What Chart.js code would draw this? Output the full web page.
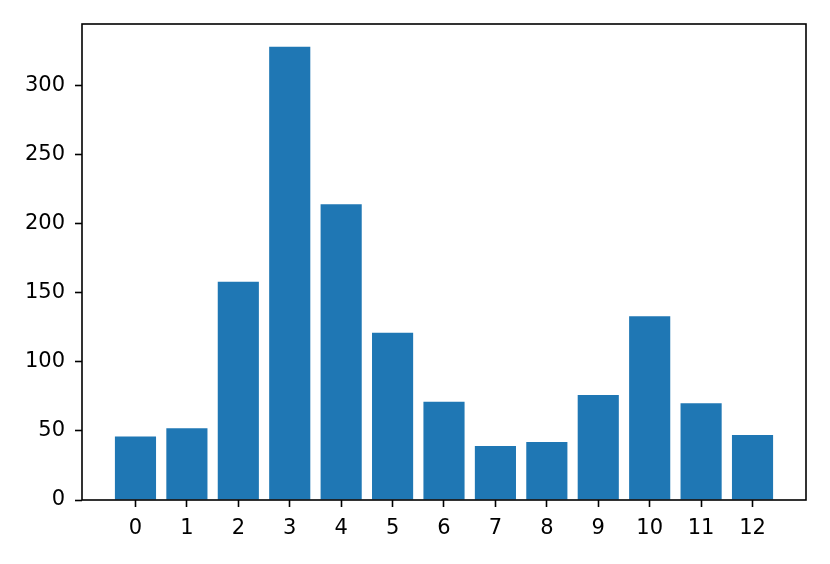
<!DOCTYPE html>
<html>
<head>
<meta charset="utf-8">
<script src="https://cdn.jsdelivr.net/npm/chart.js@4/dist/chart.umd.min.js"></script>
<style>
  html, body { margin: 0; padding: 0; background: #fff; }
  #wrap { width: 830px; height: 564px; }
</style>
</head>
<body>
<div id="wrap"><canvas id="chart" width="830" height="564"></canvas></div>
<script>
// values
const categories = [0, 1, 2, 3, 4, 5, 6, 7, 8, 9, 10, 11, 12];
const values = [46, 52, 158, 328, 214, 121, 71, 39, 42, 76, 133, 70, 47];
const xTicks = [0, 1, 2, 3, 4, 5, 6, 7, 8, 9, 10, 11, 12];
const yTicks = [0, 50, 100, 150, 200, 250, 300];

// matplotlib-like margins: 5% around the bars
const xMin = -0.4 - 0.64;
const xMax = 12.4 + 0.64;
const yMax = Math.max(...values) * 1.05;

// plot frame (all four spines)
const frame = {
    id: 'frame',
    afterDraw(chart) {
        const a = chart.chartArea;
        const c = chart.ctx;
        c.save();
        c.strokeStyle = '#000';
        c.lineWidth = 1.6;
        c.strokeRect(a.left, a.top, a.right - a.left, a.bottom - a.top);
        c.restore();
    }
};

const tickFont = { family: 'DejaVu Sans', size: 21 };

const ctx = document.querySelector('#chart').getContext('2d');
new Chart(ctx, {
    type: 'bar',
    data: {
        datasets: [{
            data: categories.map((c, i) => ({ x: c, y: values[i] })),
            backgroundColor: '#1f77b4',
            borderWidth: 0,
            barPercentage: 0.8,
            categoryPercentage: 1.0
        }]
    },
    options: {
        responsive: false,
        animation: false,
        layout: { padding: { top: 24, right: 24, left: 0, bottom: 0 } },
        plugins: {
            legend: { display: false },
            tooltip: { enabled: false }
        },
        scales: {
            x: {
                type: 'linear',
                min: xMin,
                max: xMax,
                offset: false,
                afterBuildTicks: s => { s.ticks = xTicks.map(v => ({ value: v })); },
                afterFit: s => { s.height = 64; },
                border: { display: false },
                grid: {
                    offset: false,
                    drawOnChartArea: false,
                    drawTicks: true,
                    tickLength: 7,
                    tickColor: '#000',
                    tickWidth: 1.6
                },
                ticks: {
                    color: '#000',
                    font: tickFont,
                    padding: 9,
                    maxRotation: 0,
                    autoSkip: false
                }
            },
            y: {
                min: 0,
                max: yMax,
                afterBuildTicks: s => { s.ticks = yTicks.map(v => ({ value: v })); },
                afterFit: s => { s.width = 82; },
                border: { display: false },
                grid: {
                    drawOnChartArea: false,
                    drawTicks: true,
                    tickLength: 7,
                    tickColor: '#000',
                    tickWidth: 1.6
                },
                ticks: {
                    color: '#000',
                    font: tickFont,
                    padding: 10
                }
            }
        }
    },
    plugins: [frame]
});
</script>
</body>
</html>
